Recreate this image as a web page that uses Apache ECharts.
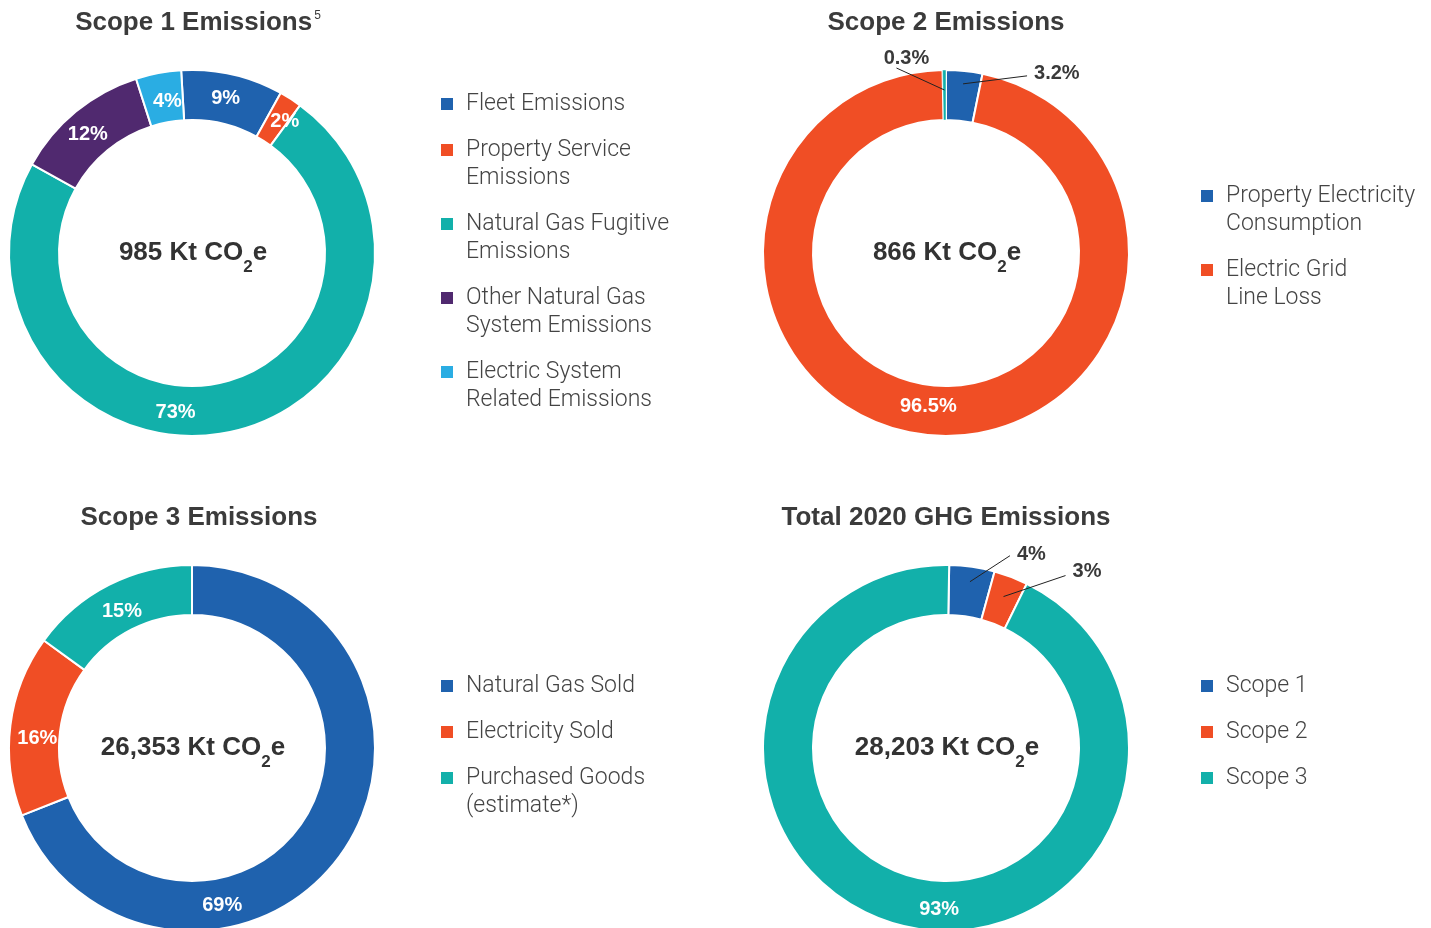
<!DOCTYPE html>
<html><head><meta charset="utf-8">
<script src="https://cdn.jsdelivr.net/npm/echarts@6/dist/echarts.min.js"></script>
<style>html,body{margin:0;padding:0;background:#fff;} #c{width:1431px;height:928px;}</style>
</head><body><div id="c"></div>
<script>
// ---- data ----
const scope1Names = ['Fleet Emissions', 'Property Service\nEmissions', 'Natural Gas Fugitive\nEmissions', 'Other Natural Gas\nSystem Emissions', 'Electric System\nRelated Emissions'];
const scope1Values = [9, 2, 73, 12, 4];
const scope2Names = ['Property Electricity\nConsumption', 'Electric Grid\nLine Loss', 'Other'];
const scope2Values = [3.2, 96.5, 0.3];
const scope2Legend = ['Property Electricity\nConsumption', 'Electric Grid\nLine Loss'];
const scope3Names = ['Natural Gas Sold', 'Electricity Sold', 'Purchased Goods\n(estimate*)'];
const scope3Values = [69, 16, 15];
const totalNames = ['Scope 1', 'Scope 2', 'Scope 3'];
const totalValues = [4, 3, 93];
const centerTotals = [985, 866, 26353, 28203];
const chartTitles = ['Scope 1 Emissions', 'Scope 2 Emissions', 'Scope 3 Emissions', 'Total 2020 GHG Emissions'];
const titleNotes = ['5', '', '', ''];

// ---- style ----
const BLUE = '#1f62ae', ORANGE = '#f04e25', TEAL = '#12b0aa', PURPLE = '#50296f', LBLUE = '#2aade3';
const FONT = 'Liberation Sans';
const centers = [[192, 253], [946, 253], [192, 748], [946, 748]];
const titlePos = [[198, 23], [946, 23], [199, 518], [946, 518]];

const spec1 = [{pos:'inside', shift:[-2,2]}, {pos:'inside', shift:[6,4]}, {pos:'inside', shift:[-51,2]}, {pos:'inside', shift:[-2,6]}, {pos:'inside', shift:[5,7]}];
const spec2 = [{pos:'outside', inward:13, end:[64,-8], text:[7,-2], align:'left'}, {pos:'inside', shift:[-3,-7]}, {pos:'outside', inward:20, end:[-48,-22], text:[10,-10], align:'center', border:0.5}];
const spec3 = [{pos:'inside', shift:[-103,67]}, {pos:'inside', shift:[5,11]}, {pos:'inside', shift:[3,7]}];
const spec4 = [{pos:'outside', inward:15, end:[40,-26], text:[7,-1], align:'left'}, {pos:'outside', inward:21, end:[62,-21], text:[7,-4], align:'left'}, {pos:'inside', shift:[31,5]}];

function makeLayout(spec) {
  return function (params) {
    const s = spec[params.dataIndex];
    if (!s) return {};
    if (s.shift) return { dx: s.shift[0], dy: s.shift[1] };
    const pts = params.labelLinePoints;
    if (!pts) return {};
    const p0 = pts[0], p1 = pts[1];
    const vx = p1[0] - p0[0], vy = p1[1] - p0[1];
    const len = Math.hypot(vx, vy) || 1;
    const start = [p0[0] - vx / len * s.inward, p0[1] - vy / len * s.inward];
    const end = [start[0] + s.end[0], start[1] + s.end[1]];
    return { x: end[0] + s.text[0], y: end[1] + s.text[1], align: s.align, verticalAlign: 'middle', labelLinePoints: [start, end] };
  };
}

// overlay=false: coloured ring with inside labels; overlay=true: invisible ring carrying outside labels on top
function pieSeries(names, values, colors, center, startAngle, spec, overlay) {
  return {
    type: 'pie', center: center, radius: [133, 183], startAngle: startAngle, clockwise: true,
    silent: true, avoidLabelOverlap: false, z: overlay ? 5 : 2,
    itemStyle: { borderColor: '#fff', borderWidth: overlay ? 0 : 2 },
    label: { formatter: function (p) { return p.value + '%'; }, fontFamily: FONT, fontWeight: 'bold', fontSize: 20 },
    labelLine: { show: true, length: 10, length2: 10, lineStyle: { color: '#222', width: 1, opacity: 1 } },
    labelLayout: makeLayout(spec),
    data: names.map(function (n, i) {
      const inside = spec[i].pos === 'inside';
      const showLabel = overlay ? !inside : inside;
      const it = overlay ? { color: 'rgba(0,0,0,0)' } : { color: colors[i] };
      if (!overlay && spec[i].border != null) it.borderWidth = spec[i].border;
      return {
        name: n, value: values[i], itemStyle: it,
        label: { show: showLabel, position: spec[i].pos, color: inside ? '#fff' : '#3a3a3a' },
        labelLine: { show: showLabel && !inside }
      };
    })
  };
}

function legendFor(names, left, top, gap, padSingle) {
  return {
    orient: 'vertical', left: left, top: top, padding: 0, itemWidth: 14, itemHeight: 14, itemGap: gap,
    icon: 'rect', selectedMode: false,
    textStyle: { fontFamily: 'Roboto', fontWeight: 300, fontSize: 23, lineHeight: 28, color: '#444', padding: [0, 0, 0, 7] },
    formatter: function (name) {
      const lines = name.split('\n');
      const multi = lines.length > 1;
      const above = (multi || padSingle) ? [' '] : [];
      const below = (!multi && padSingle) ? [' '] : [];
      return above.concat(lines, below).join('\n');
    },
    data: names
  };
}

const graphics = [];
chartTitles.forEach(function (t, i) {
  const txt = '{t|' + t + '}' + (titleNotes[i] ? '{s|' + titleNotes[i] + '}' : '');
  graphics.push({
    type: 'text', x: titlePos[i][0], y: titlePos[i][1], silent: true,
    style: {
      text: txt, align: 'center', verticalAlign: 'middle',
      rich: {
        t: { fontFamily: FONT, fontWeight: 'bold', fontSize: 26, lineHeight: 26, fill: '#3b3b3b' },
        s: { fontFamily: FONT, fontSize: 12, lineHeight: 18, verticalAlign: 'top', fill: '#3b3b3b', padding: [0, 0, 0, 2] }
      }
    }
  });
});
centerTotals.forEach(function (v, i) {
  graphics.push({
    type: 'text', x: centers[i][0] + 1, y: centers[i][1], silent: true,
    style: {
      text: '{a|' + v.toLocaleString('en-US') + ' Kt CO}{b|2}{a|e}', align: 'center', verticalAlign: 'middle',
      rich: {
        a: { fontFamily: FONT, fontWeight: 'bold', fontSize: 26, lineHeight: 46, fill: '#333' },
        b: { fontFamily: FONT, fontWeight: 'bold', fontSize: 17, lineHeight: 18, verticalAlign: 'bottom', fill: '#333' }
      }
    }
  });
});

const pies = [
  [scope1Names, scope1Values, [BLUE, ORANGE, TEAL, PURPLE, LBLUE], centers[0], 93.4, spec1],
  [scope2Names, scope2Values, [BLUE, ORANGE, TEAL], centers[1], 90, spec2],
  [scope3Names, scope3Values, [BLUE, ORANGE, TEAL], centers[2], 90, spec3],
  [totalNames, totalValues, [BLUE, ORANGE, TEAL], centers[3], 89, spec4]
];
const series = [];
pies.forEach(function (p) { series.push(pieSeries(p[0], p[1], p[2], p[3], p[4], p[5], false)); });
pies.forEach(function (p) {
  if (p[5].some(function (s) { return s.pos === 'outside'; })) series.push(pieSeries(p[0], p[1], p[2], p[3], p[4], p[5], true));
});

const chart = echarts.init(document.getElementById('c'));
chart.setOption({
  animation: false,
  backgroundColor: '#fff',
  legend: [
    legendFor(scope1Names, 439, 90, -10, false),
    legendFor(scope2Legend, 1199, 154, -10, false),
    legendFor(scope3Names, 439, 644, -38, true),
    legendFor(totalNames, 1199, 672, 18, false)
  ],
  graphic: { elements: graphics },
  series: series
});
</script></body></html>
